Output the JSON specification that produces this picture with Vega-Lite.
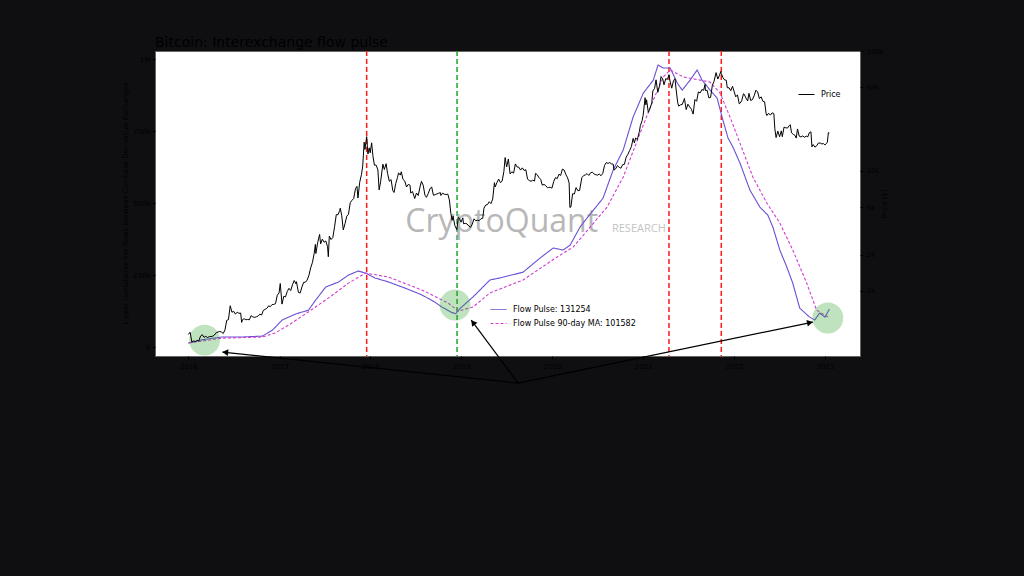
{
  "$schema": "https://vega.github.io/schema/vega-lite/v6.json",
  "autosize": {"type": "none"},
  "width": 705,
  "height": 305,
  "padding": {"left": 155, "top": 51, "right": 164, "bottom": 220},
  "background": "#0f0f12",
  "title": {"text": "Bitcoin: Interexchange flow pulse", "anchor": "start", "frame": "group", "fontSize": 14, "font": "DejaVu Sans", "fontWeight": "normal", "color": "#000000", "offset": -3},
  "config": {
    "view": {"stroke": "#666666", "fill": "#ffffff"},
    "axis": {"labelFont": "DejaVu Sans", "labelFontSize": 7, "labelColor": "#000000", "titleFont": "DejaVu Sans", "titleFontSize": 7, "titleFontWeight": "normal", "titleColor": "#000000", "tickColor": "#000000", "tickSize": 3, "domain": false, "grid": false, "labelPadding": 2},
    "legend": {"labelFont": "DejaVu Sans", "labelFontSize": 8, "labelColor": "#000000", "symbolType": "stroke", "symbolSize": 256, "symbolStrokeWidth": 1, "rowPadding": 1, "labelOffset": 6}
  },
  "datasets": {
    "flow": [
      {"date": "2016-01-01", "v": 14000, "s": "Flow Pulse: 131254"},
      {"date": "2016-03-01", "v": 26000, "s": "Flow Pulse: 131254"},
      {"date": "2016-05-16", "v": 35000, "s": "Flow Pulse: 131254"},
      {"date": "2016-08-05", "v": 35000, "s": "Flow Pulse: 131254"},
      {"date": "2016-10-24", "v": 38000, "s": "Flow Pulse: 131254"},
      {"date": "2016-12-04", "v": 59000, "s": "Flow Pulse: 131254"},
      {"date": "2017-01-12", "v": 94000, "s": "Flow Pulse: 131254"},
      {"date": "2017-03-07", "v": 115000, "s": "Flow Pulse: 131254"},
      {"date": "2017-04-27", "v": 128000, "s": "Flow Pulse: 131254"},
      {"date": "2017-05-26", "v": 163000, "s": "Flow Pulse: 131254"},
      {"date": "2017-07-05", "v": 208000, "s": "Flow Pulse: 131254"},
      {"date": "2017-08-26", "v": 226000, "s": "Flow Pulse: 131254"},
      {"date": "2017-10-05", "v": 250000, "s": "Flow Pulse: 131254"},
      {"date": "2017-11-13", "v": 264000, "s": "Flow Pulse: 131254"},
      {"date": "2017-12-13", "v": 257000, "s": "Flow Pulse: 131254"},
      {"date": "2018-01-19", "v": 240000, "s": "Flow Pulse: 131254"},
      {"date": "2018-03-15", "v": 226000, "s": "Flow Pulse: 131254"},
      {"date": "2018-05-19", "v": 205000, "s": "Flow Pulse: 131254"},
      {"date": "2018-07-27", "v": 181000, "s": "Flow Pulse: 131254"},
      {"date": "2018-09-17", "v": 156000, "s": "Flow Pulse: 131254"},
      {"date": "2018-10-15", "v": 139000, "s": "Flow Pulse: 131254"},
      {"date": "2018-11-24", "v": 120000, "s": "Flow Pulse: 131254"},
      {"date": "2018-12-10", "v": 116000, "s": "Flow Pulse: 131254"},
      {"date": "2018-12-28", "v": 135000, "s": "Flow Pulse: 131254"},
      {"date": "2019-02-17", "v": 174000, "s": "Flow Pulse: 131254"},
      {"date": "2019-04-26", "v": 233000, "s": "Flow Pulse: 131254"},
      {"date": "2019-06-05", "v": 240000, "s": "Flow Pulse: 131254"},
      {"date": "2019-09-06", "v": 260000, "s": "Flow Pulse: 131254"},
      {"date": "2019-11-13", "v": 309000, "s": "Flow Pulse: 131254"},
      {"date": "2020-01-05", "v": 344000, "s": "Flow Pulse: 131254"},
      {"date": "2020-02-14", "v": 337000, "s": "Flow Pulse: 131254"},
      {"date": "2020-03-13", "v": 354000, "s": "Flow Pulse: 131254"},
      {"date": "2020-04-22", "v": 417000, "s": "Flow Pulse: 131254"},
      {"date": "2020-05-20", "v": 448000, "s": "Flow Pulse: 131254"},
      {"date": "2020-07-23", "v": 517000, "s": "Flow Pulse: 131254"},
      {"date": "2020-09-02", "v": 615000, "s": "Flow Pulse: 131254"},
      {"date": "2020-10-12", "v": 684000, "s": "Flow Pulse: 131254"},
      {"date": "2020-11-21", "v": 799000, "s": "Flow Pulse: 131254"},
      {"date": "2021-01-01", "v": 882000, "s": "Flow Pulse: 131254"},
      {"date": "2021-02-10", "v": 927000, "s": "Flow Pulse: 131254"},
      {"date": "2021-03-01", "v": 979000, "s": "Flow Pulse: 131254"},
      {"date": "2021-03-22", "v": 969000, "s": "Flow Pulse: 131254"},
      {"date": "2021-04-19", "v": 969000, "s": "Flow Pulse: 131254"},
      {"date": "2021-05-17", "v": 917000, "s": "Flow Pulse: 131254"},
      {"date": "2021-06-06", "v": 892000, "s": "Flow Pulse: 131254"},
      {"date": "2021-07-08", "v": 927000, "s": "Flow Pulse: 131254"},
      {"date": "2021-08-05", "v": 962000, "s": "Flow Pulse: 131254"},
      {"date": "2021-08-25", "v": 927000, "s": "Flow Pulse: 131254"},
      {"date": "2021-09-26", "v": 892000, "s": "Flow Pulse: 131254"},
      {"date": "2021-10-24", "v": 865000, "s": "Flow Pulse: 131254"},
      {"date": "2021-11-13", "v": 799000, "s": "Flow Pulse: 131254"},
      {"date": "2021-12-07", "v": 726000, "s": "Flow Pulse: 131254"},
      {"date": "2021-12-27", "v": 694000, "s": "Flow Pulse: 131254"},
      {"date": "2022-01-24", "v": 639000, "s": "Flow Pulse: 131254"},
      {"date": "2022-03-05", "v": 545000, "s": "Flow Pulse: 131254"},
      {"date": "2022-04-14", "v": 486000, "s": "Flow Pulse: 131254"},
      {"date": "2022-05-16", "v": 458000, "s": "Flow Pulse: 131254"},
      {"date": "2022-06-05", "v": 417000, "s": "Flow Pulse: 131254"},
      {"date": "2022-07-03", "v": 337000, "s": "Flow Pulse: 131254"},
      {"date": "2022-07-31", "v": 278000, "s": "Flow Pulse: 131254"},
      {"date": "2022-08-24", "v": 222000, "s": "Flow Pulse: 131254"},
      {"date": "2022-09-21", "v": 135000, "s": "Flow Pulse: 131254"},
      {"date": "2022-10-31", "v": 104000, "s": "Flow Pulse: 131254"},
      {"date": "2022-11-20", "v": 94000, "s": "Flow Pulse: 131254"},
      {"date": "2022-12-10", "v": 118000, "s": "Flow Pulse: 131254"},
      {"date": "2022-12-31", "v": 104000, "s": "Flow Pulse: 131254"},
      {"date": "2023-01-18", "v": 131254, "s": "Flow Pulse: 131254"},
      {"date": "2016-01-01", "v": 14000, "s": "Flow Pulse 90-day MA: 101582"},
      {"date": "2016-05-16", "v": 31000, "s": "Flow Pulse 90-day MA: 101582"},
      {"date": "2016-10-24", "v": 35000, "s": "Flow Pulse 90-day MA: 101582"},
      {"date": "2016-12-15", "v": 49000, "s": "Flow Pulse 90-day MA: 101582"},
      {"date": "2017-02-06", "v": 76000, "s": "Flow Pulse 90-day MA: 101582"},
      {"date": "2017-04-27", "v": 122000, "s": "Flow Pulse 90-day MA: 101582"},
      {"date": "2017-07-16", "v": 170000, "s": "Flow Pulse 90-day MA: 101582"},
      {"date": "2017-10-05", "v": 222000, "s": "Flow Pulse 90-day MA: 101582"},
      {"date": "2017-12-13", "v": 257000, "s": "Flow Pulse 90-day MA: 101582"},
      {"date": "2018-03-15", "v": 243000, "s": "Flow Pulse 90-day MA: 101582"},
      {"date": "2018-07-27", "v": 198000, "s": "Flow Pulse 90-day MA: 101582"},
      {"date": "2018-11-09", "v": 153000, "s": "Flow Pulse 90-day MA: 101582"},
      {"date": "2018-12-20", "v": 125000, "s": "Flow Pulse 90-day MA: 101582"},
      {"date": "2019-02-17", "v": 139000, "s": "Flow Pulse 90-day MA: 101582"},
      {"date": "2019-04-26", "v": 188000, "s": "Flow Pulse 90-day MA: 101582"},
      {"date": "2019-09-06", "v": 233000, "s": "Flow Pulse 90-day MA: 101582"},
      {"date": "2020-01-21", "v": 313000, "s": "Flow Pulse 90-day MA: 101582"},
      {"date": "2020-03-25", "v": 347000, "s": "Flow Pulse 90-day MA: 101582"},
      {"date": "2020-06-02", "v": 417000, "s": "Flow Pulse 90-day MA: 101582"},
      {"date": "2020-08-08", "v": 486000, "s": "Flow Pulse 90-day MA: 101582"},
      {"date": "2020-10-12", "v": 590000, "s": "Flow Pulse 90-day MA: 101582"},
      {"date": "2020-12-19", "v": 743000, "s": "Flow Pulse 90-day MA: 101582"},
      {"date": "2021-02-10", "v": 858000, "s": "Flow Pulse 90-day MA: 101582"},
      {"date": "2021-03-22", "v": 938000, "s": "Flow Pulse 90-day MA: 101582"},
      {"date": "2021-04-19", "v": 962000, "s": "Flow Pulse 90-day MA: 101582"},
      {"date": "2021-06-10", "v": 938000, "s": "Flow Pulse 90-day MA: 101582"},
      {"date": "2021-08-17", "v": 927000, "s": "Flow Pulse 90-day MA: 101582"},
      {"date": "2021-09-26", "v": 920000, "s": "Flow Pulse 90-day MA: 101582"},
      {"date": "2021-11-05", "v": 882000, "s": "Flow Pulse 90-day MA: 101582"},
      {"date": "2021-12-15", "v": 799000, "s": "Flow Pulse 90-day MA: 101582"},
      {"date": "2022-01-24", "v": 708000, "s": "Flow Pulse 90-day MA: 101582"},
      {"date": "2022-03-17", "v": 590000, "s": "Flow Pulse 90-day MA: 101582"},
      {"date": "2022-05-12", "v": 500000, "s": "Flow Pulse 90-day MA: 101582"},
      {"date": "2022-07-03", "v": 431000, "s": "Flow Pulse 90-day MA: 101582"},
      {"date": "2022-08-24", "v": 337000, "s": "Flow Pulse 90-day MA: 101582"},
      {"date": "2022-10-19", "v": 222000, "s": "Flow Pulse 90-day MA: 101582"},
      {"date": "2022-11-28", "v": 128000, "s": "Flow Pulse 90-day MA: 101582"},
      {"date": "2023-01-18", "v": 101582, "s": "Flow Pulse 90-day MA: 101582"}
    ],
    "price": [
      {"date":"2016-01-01","p":434},{"date":"2016-01-08","p":453},{"date":"2016-01-15","p":375},{"date":"2016-01-22","p":383},{"date":"2016-01-29","p":379},{"date":"2016-02-05","p":386},{"date":"2016-02-12","p":384},{"date":"2016-02-19","p":421},{"date":"2016-02-26","p":432},{"date":"2016-03-04","p":410},{"date":"2016-03-11","p":419},{"date":"2016-03-18","p":409},{"date":"2016-03-25","p":416},{"date":"2016-04-01","p":417},{"date":"2016-04-08","p":420},{"date":"2016-04-15","p":430},{"date":"2016-04-22","p":449},{"date":"2016-04-29","p":455},{"date":"2016-05-06","p":459},{"date":"2016-05-13","p":455},{"date":"2016-05-20","p":442},{"date":"2016-05-27","p":473},{"date":"2016-06-03","p":569},{"date":"2016-06-10","p":577},{"date":"2016-06-17","p":753},{"date":"2016-06-24","p":665},{"date":"2016-07-01","p":676},{"date":"2016-07-08","p":640},{"date":"2016-07-15","p":666},{"date":"2016-07-22","p":651},{"date":"2016-07-29","p":655},{"date":"2016-08-02","p":547},{"date":"2016-08-05","p":575},{"date":"2016-08-12","p":587},{"date":"2016-08-19","p":575},{"date":"2016-08-26","p":579},{"date":"2016-09-02","p":575},{"date":"2016-09-09","p":623},{"date":"2016-09-16","p":607},{"date":"2016-09-23","p":602},{"date":"2016-09-30","p":609},{"date":"2016-10-07","p":617},{"date":"2016-10-14","p":641},{"date":"2016-10-21","p":630},{"date":"2016-10-28","p":688},{"date":"2016-11-04","p":703},{"date":"2016-11-11","p":716},{"date":"2016-11-18","p":751},{"date":"2016-11-25","p":740},{"date":"2016-12-02","p":771},{"date":"2016-12-09","p":772},{"date":"2016-12-16","p":784},{"date":"2016-12-23","p":921},{"date":"2016-12-30","p":962},
      {"date":"2017-01-04","p":1154},{"date":"2017-01-11","p":777},{"date":"2017-01-18","p":902},{"date":"2017-01-25","p":892},{"date":"2017-02-01","p":989},{"date":"2017-02-08","p":1052},{"date":"2017-02-15","p":1008},{"date":"2017-02-22","p":1126},{"date":"2017-03-01","p":1222},{"date":"2017-03-08","p":1149},{"date":"2017-03-10","p":1195},{"date":"2017-03-18","p":972},{"date":"2017-03-25","p":962},{"date":"2017-04-01","p":1080},{"date":"2017-04-08","p":1181},{"date":"2017-04-15","p":1183},{"date":"2017-04-22","p":1232},{"date":"2017-04-29","p":1347},{"date":"2017-05-06","p":1555},{"date":"2017-05-13","p":1720},{"date":"2017-05-20","p":2041},{"date":"2017-05-25","p":2445},{"date":"2017-05-27","p":2052},{"date":"2017-06-03","p":2519},{"date":"2017-06-11","p":2958},{"date":"2017-06-15","p":2465},{"date":"2017-06-22","p":2705},{"date":"2017-06-29","p":2547},{"date":"2017-07-06","p":2610},{"date":"2017-07-13","p":2334},{"date":"2017-07-16","p":1929},{"date":"2017-07-20","p":2864},{"date":"2017-07-27","p":2682},{"date":"2017-08-03","p":2786},{"date":"2017-08-10","p":3421},{"date":"2017-08-17","p":4331},{"date":"2017-08-24","p":4316},{"date":"2017-08-31","p":4703},{"date":"2017-09-02","p":4892},{"date":"2017-09-08","p":4228},{"date":"2017-09-14","p":3226},{"date":"2017-09-21","p":3631},{"date":"2017-09-28","p":4200},{"date":"2017-10-05","p":4357},{"date":"2017-10-12","p":5440},{"date":"2017-10-19","p":5695},{"date":"2017-10-26","p":5900},{"date":"2017-11-02","p":7100},{"date":"2017-11-08","p":7446},{"date":"2017-11-12","p":5950},{"date":"2017-11-19","p":8050},{"date":"2017-11-26","p":9330},{"date":"2017-12-01","p":10975},{"date":"2017-12-07","p":17390},{"date":"2017-12-10","p":15100},{"date":"2017-12-17","p":19345},{"date":"2017-12-22","p":13830},{"date":"2017-12-27","p":15590},{"date":"2017-12-31","p":14156},
      {"date":"2018-01-06","p":17174},{"date":"2018-01-11","p":13400},{"date":"2018-01-17","p":11180},{"date":"2018-01-24","p":11200},{"date":"2018-01-31","p":10220},{"date":"2018-02-05","p":6955},{"date":"2018-02-11","p":8130},{"date":"2018-02-20","p":11400},{"date":"2018-02-26","p":10300},{"date":"2018-03-05","p":11500},{"date":"2018-03-11","p":9530},{"date":"2018-03-18","p":8200},{"date":"2018-03-25","p":8470},{"date":"2018-04-01","p":6845},{"date":"2018-04-06","p":6620},{"date":"2018-04-13","p":7900},{"date":"2018-04-20","p":8860},{"date":"2018-04-24","p":9650},{"date":"2018-05-01","p":9240},{"date":"2018-05-05","p":9850},{"date":"2018-05-12","p":8500},{"date":"2018-05-19","p":8250},{"date":"2018-05-26","p":7350},{"date":"2018-06-02","p":7720},{"date":"2018-06-09","p":7620},{"date":"2018-06-12","p":6550},{"date":"2018-06-19","p":6740},{"date":"2018-06-28","p":5900},{"date":"2018-07-05","p":6550},{"date":"2018-07-12","p":6250},{"date":"2018-07-19","p":7320},{"date":"2018-07-25","p":8200},{"date":"2018-08-01","p":7600},{"date":"2018-08-08","p":6280},{"date":"2018-08-14","p":6030},{"date":"2018-08-21","p":6480},{"date":"2018-08-28","p":7090},{"date":"2018-09-04","p":7370},{"date":"2018-09-11","p":6280},{"date":"2018-09-18","p":6340},{"date":"2018-09-25","p":6440},{"date":"2018-10-02","p":6520},{"date":"2018-10-09","p":6600},{"date":"2018-10-11","p":6250},{"date":"2018-10-18","p":6540},{"date":"2018-10-25","p":6400},{"date":"2018-11-01","p":6360},{"date":"2018-11-08","p":6410},{"date":"2018-11-14","p":5740},{"date":"2018-11-20","p":4450},{"date":"2018-11-25","p":3880},{"date":"2018-11-29","p":4200},{"date":"2018-12-06","p":3510},{"date":"2018-12-14","p":3240},{"date":"2018-12-20","p":4110},{"date":"2018-12-24","p":4040},{"date":"2018-12-31","p":3740},
      {"date":"2019-01-07","p":4070},{"date":"2019-01-10","p":3630},{"date":"2019-01-17","p":3660},{"date":"2019-01-24","p":3620},{"date":"2019-01-31","p":3480},{"date":"2019-02-07","p":3400},{"date":"2019-02-14","p":3600},{"date":"2019-02-21","p":3990},{"date":"2019-02-28","p":3850},{"date":"2019-03-07","p":3880},{"date":"2019-03-14","p":3860},{"date":"2019-03-21","p":4000},{"date":"2019-03-28","p":4030},{"date":"2019-04-02","p":4900},{"date":"2019-04-09","p":5200},{"date":"2019-04-16","p":5240},{"date":"2019-04-23","p":5540},{"date":"2019-04-30","p":5350},{"date":"2019-05-07","p":5830},{"date":"2019-05-14","p":7990},{"date":"2019-05-17","p":7360},{"date":"2019-05-24","p":8000},{"date":"2019-05-31","p":8560},{"date":"2019-06-07","p":8000},{"date":"2019-06-14","p":8240},{"date":"2019-06-21","p":9900},{"date":"2019-06-26","p":12930},{"date":"2019-07-02","p":10800},{"date":"2019-07-09","p":12570},{"date":"2019-07-16","p":9430},{"date":"2019-07-23","p":9850},{"date":"2019-07-30","p":9590},{"date":"2019-08-06","p":11460},{"date":"2019-08-13","p":10800},{"date":"2019-08-20","p":10750},{"date":"2019-08-27","p":10170},{"date":"2019-09-03","p":10620},{"date":"2019-09-10","p":10100},{"date":"2019-09-17","p":10260},{"date":"2019-09-24","p":8550},{"date":"2019-10-01","p":8330},{"date":"2019-10-08","p":8210},{"date":"2019-10-15","p":8370},{"date":"2019-10-22","p":8240},{"date":"2019-10-26","p":9550},{"date":"2019-11-02","p":9300},{"date":"2019-11-09","p":8800},{"date":"2019-11-16","p":8500},{"date":"2019-11-22","p":7620},{"date":"2019-11-29","p":7730},{"date":"2019-12-06","p":7550},{"date":"2019-12-13","p":7250},{"date":"2019-12-18","p":7280},{"date":"2019-12-24","p":7320},{"date":"2019-12-31","p":7190},
      {"date":"2020-01-07","p":8160},{"date":"2020-01-14","p":8810},{"date":"2020-01-21","p":8630},{"date":"2020-01-28","p":9390},{"date":"2020-02-04","p":9180},{"date":"2020-02-11","p":10360},{"date":"2020-02-18","p":10180},{"date":"2020-02-25","p":9320},{"date":"2020-03-03","p":8760},{"date":"2020-03-09","p":7950},{"date":"2020-03-12","p":4970},{"date":"2020-03-16","p":5010},{"date":"2020-03-23","p":6460},{"date":"2020-03-30","p":6430},{"date":"2020-04-06","p":7270},{"date":"2020-04-13","p":6850},{"date":"2020-04-20","p":6880},{"date":"2020-04-29","p":8800},{"date":"2020-05-06","p":9150},{"date":"2020-05-13","p":9270},{"date":"2020-05-20","p":9500},{"date":"2020-05-27","p":9180},{"date":"2020-06-03","p":9660},{"date":"2020-06-10","p":9770},{"date":"2020-06-17","p":9450},{"date":"2020-06-24","p":9310},{"date":"2020-07-01","p":9230},{"date":"2020-07-08","p":9430},{"date":"2020-07-15","p":9130},{"date":"2020-07-22","p":9540},{"date":"2020-07-29","p":11100},{"date":"2020-08-05","p":11750},{"date":"2020-08-12","p":11560},{"date":"2020-08-19","p":11750},{"date":"2020-08-26","p":11470},{"date":"2020-09-02","p":11400},{"date":"2020-09-05","p":10170},{"date":"2020-09-12","p":10440},{"date":"2020-09-19","p":11080},{"date":"2020-09-26","p":10720},{"date":"2020-10-03","p":10550},{"date":"2020-10-10","p":11300},{"date":"2020-10-17","p":11360},{"date":"2020-10-24","p":13030},{"date":"2020-10-31","p":13780},{"date":"2020-11-07","p":14820},{"date":"2020-11-14","p":15960},{"date":"2020-11-21","p":18680},{"date":"2020-11-26","p":17150},{"date":"2020-12-01","p":18800},{"date":"2020-12-08","p":18320},{"date":"2020-12-16","p":21300},{"date":"2020-12-20","p":23870},{"date":"2020-12-27","p":26280},{"date":"2020-12-31","p":29000},
      {"date":"2021-01-03","p":32780},{"date":"2021-01-08","p":40800},{"date":"2021-01-11","p":35600},{"date":"2021-01-14","p":39200},{"date":"2021-01-21","p":30800},{"date":"2021-01-28","p":33400},{"date":"2021-02-04","p":36900},{"date":"2021-02-08","p":46400},{"date":"2021-02-15","p":48700},{"date":"2021-02-21","p":57500},{"date":"2021-02-28","p":45200},{"date":"2021-03-07","p":51200},{"date":"2021-03-13","p":61200},{"date":"2021-03-20","p":58300},{"date":"2021-03-25","p":52300},{"date":"2021-04-01","p":58800},{"date":"2021-04-08","p":58000},{"date":"2021-04-14","p":63500},{"date":"2021-04-18","p":56200},{"date":"2021-04-25","p":49000},{"date":"2021-05-02","p":56500},{"date":"2021-05-08","p":58800},{"date":"2021-05-12","p":49200},{"date":"2021-05-19","p":37000},{"date":"2021-05-23","p":34700},{"date":"2021-05-30","p":35600},{"date":"2021-06-06","p":35800},{"date":"2021-06-13","p":39000},{"date":"2021-06-15","p":40200},{"date":"2021-06-22","p":32500},{"date":"2021-06-29","p":36000},{"date":"2021-07-06","p":34200},{"date":"2021-07-13","p":32700},{"date":"2021-07-20","p":29800},{"date":"2021-07-27","p":39400},{"date":"2021-08-03","p":38100},{"date":"2021-08-10","p":45600},{"date":"2021-08-17","p":44700},{"date":"2021-08-24","p":47700},{"date":"2021-08-31","p":47100},{"date":"2021-09-06","p":52700},{"date":"2021-09-07","p":46900},{"date":"2021-09-14","p":47100},{"date":"2021-09-21","p":40700},{"date":"2021-09-28","p":41000},{"date":"2021-10-05","p":51500},{"date":"2021-10-12","p":56000},{"date":"2021-10-20","p":66000},{"date":"2021-10-27","p":58400},{"date":"2021-11-03","p":62900},{"date":"2021-11-08","p":67500},{"date":"2021-11-10","p":64900},{"date":"2021-11-16","p":60300},{"date":"2021-11-23","p":57500},{"date":"2021-11-30","p":57000},{"date":"2021-12-04","p":49400},{"date":"2021-12-11","p":49400},{"date":"2021-12-18","p":46700},{"date":"2021-12-25","p":50800},{"date":"2021-12-31","p":46300},
      {"date":"2022-01-07","p":41500},{"date":"2022-01-14","p":43100},{"date":"2022-01-21","p":36300},{"date":"2022-01-24","p":36600},{"date":"2022-01-31","p":38500},{"date":"2022-02-07","p":44000},{"date":"2022-02-10","p":43600},{"date":"2022-02-17","p":40600},{"date":"2022-02-24","p":38300},{"date":"2022-03-01","p":44400},{"date":"2022-03-08","p":38700},{"date":"2022-03-15","p":39300},{"date":"2022-03-22","p":42400},{"date":"2022-03-29","p":47100},{"date":"2022-04-05","p":45500},{"date":"2022-04-12","p":40100},{"date":"2022-04-19","p":41500},{"date":"2022-04-26","p":38100},{"date":"2022-05-03","p":37700},{"date":"2022-05-09","p":30100},{"date":"2022-05-12","p":29000},{"date":"2022-05-19","p":30300},{"date":"2022-05-26","p":29200},{"date":"2022-06-02","p":30500},{"date":"2022-06-09","p":30100},{"date":"2022-06-13","p":22500},{"date":"2022-06-18","p":19000},{"date":"2022-06-25","p":21500},{"date":"2022-07-02","p":19300},{"date":"2022-07-09","p":21600},{"date":"2022-07-13","p":19300},{"date":"2022-07-20","p":23200},{"date":"2022-07-27","p":22900},{"date":"2022-08-03","p":22800},{"date":"2022-08-10","p":23900},{"date":"2022-08-14","p":24300},{"date":"2022-08-19","p":20800},{"date":"2022-08-26","p":20200},{"date":"2022-09-02","p":19800},{"date":"2022-09-07","p":18800},{"date":"2022-09-12","p":22400},{"date":"2022-09-19","p":19500},{"date":"2022-09-26","p":19200},{"date":"2022-10-03","p":19600},{"date":"2022-10-10","p":19100},{"date":"2022-10-17","p":19500},{"date":"2022-10-24","p":19300},{"date":"2022-10-29","p":20800},{"date":"2022-11-05","p":21200},{"date":"2022-11-09","p":15900},{"date":"2022-11-14","p":16600},{"date":"2022-11-21","p":15800},{"date":"2022-11-28","p":16200},{"date":"2022-12-05","p":17100},{"date":"2022-12-12","p":17100},{"date":"2022-12-19","p":16800},{"date":"2022-12-26","p":16900},{"date":"2022-12-31","p":16500},
      {"date":"2023-01-06","p":16900},{"date":"2023-01-10","p":17400},{"date":"2023-01-14","p":20900},{"date":"2023-01-18","p":20700}
    ]
  },
  "layer": [
    {
      "layer": [
        {
          "data": {"values": [{"date": "2017-12-17"}, {"date": "2021-04-14"}, {"date": "2021-11-10"}]},
          "mark": {"type": "rule", "color": "#ff1a1a", "strokeDash": [5, 3], "strokeWidth": 1.5},
          "encoding": {"x": {"field": "date", "type": "temporal"}}
        },
        {
          "data": {"values": [{"date": "2018-12-15"}]},
          "mark": {"type": "rule", "color": "#1fa51f", "strokeDash": [5, 3], "strokeWidth": 1.5},
          "encoding": {"x": {"field": "date", "type": "temporal"}}
        },
        {
          "data": {"values": [{"t": "CryptoQuant", "date": "2018-05-21", "v": 399000}]},
          "mark": {"type": "text", "font": "Open Sans", "fontSize": 32, "color": "#ababab", "opacity": 0.85, "align": "left", "baseline": "alphabetic"},
          "encoding": {"x": {"field": "date", "type": "temporal"}, "y": {"field": "v", "type": "quantitative"}, "text": {"field": "t"}}
        },
        {
          "data": {"values": [{"t": "RESEARCH", "date": "2020-08-28", "v": 399000}]},
          "mark": {"type": "text", "font": "Open Sans", "fontSize": 11, "color": "#c4c4c4", "align": "left", "baseline": "alphabetic"},
          "encoding": {"x": {"field": "date", "type": "temporal"}, "y": {"field": "v", "type": "quantitative"}, "text": {"field": "t"}}
        },
        {
          "data": {"name": "flow"},
          "mark": {"type": "line", "strokeWidth": 1.1},
          "encoding": {
            "x": {"field": "date", "type": "temporal", "title": null,
                  "scale": {"type": "utc", "domain": [{"year": 2015, "month": 8, "date": 20, "utc": true}, {"year": 2023, "month": 5, "date": 21, "utc": true}]},
                  "axis": {"format": "%Y", "labelPadding": 3, "values": [{"year": 2016, "month": 1, "date": 1, "utc": true}, {"year": 2017, "month": 1, "date": 1, "utc": true}, {"year": 2018, "month": 1, "date": 1, "utc": true}, {"year": 2019, "month": 1, "date": 1, "utc": true}, {"year": 2020, "month": 1, "date": 1, "utc": true}, {"year": 2021, "month": 1, "date": 1, "utc": true}, {"year": 2022, "month": 1, "date": 1, "utc": true}, {"year": 2023, "month": 1, "date": 1, "utc": true}]}},
            "y": {"field": "v", "type": "quantitative",
                  "title": "1-year cumulative net flows between Coinbase Derivative Exchanges",
                  "scale": {"domain": [-31000, 1028000], "nice": false, "zero": false},
                  "axis": {"orient": "left", "values": [0, 250000, 500000, 750000, 1000000], "labelExpr": "datum.value == 0 ? '0' : datum.value >= 1000000 ? '1M' : (datum.value / 1000) + 'k'", "titlePadding": 4}},
            "color": {"field": "s", "type": "nominal", "title": null,
                      "scale": {"domain": ["Flow Pulse: 131254", "Flow Pulse 90-day MA: 101582"], "range": ["#6a4fd6", "#d23cd2"]},
                      "legend": {"orient": "none", "legendX": 335, "legendY": 250}},
            "strokeDash": {"field": "s", "type": "nominal", "title": null,
                           "scale": {"domain": ["Flow Pulse: 131254", "Flow Pulse 90-day MA: 101582"], "range": [[1, 0], [3, 2]]},
                           "legend": {"orient": "none", "legendX": 335, "legendY": 250}}
          }
        },
        {
          "data": {"values": [{"date": "2016-03-06", "v": 24000}, {"date": "2018-12-07", "v": 146000}, {"date": "2023-01-12", "v": 101000}]},
          "mark": {"type": "point", "filled": true, "shape": "circle", "size": 950, "color": "#2ca02c", "opacity": 0.3},
          "encoding": {"x": {"field": "date", "type": "temporal"}, "y": {"field": "v", "type": "quantitative"}}
        },
        {
          "data": {"values": [
            {"x1": "2019-08-17", "y1": -125000, "x2": "2016-05-17", "y2": -17400},
            {"x1": "2019-08-17", "y1": -125000, "x2": "2019-02-10", "y2": 93750},
            {"x1": "2019-08-17", "y1": -125000, "x2": "2022-11-13", "y2": 86800}
          ]},
          "mark": {"type": "rule", "color": "#000000", "strokeWidth": 1.2, "clip": false},
          "encoding": {"x": {"field": "x1", "type": "temporal"}, "y": {"field": "y1", "type": "quantitative"}, "x2": {"field": "x2"}, "y2": {"field": "y2"}}
        },
        {
          "data": {"values": [{"date": "2016-05-28", "v": -18400}]},
          "mark": {"type": "point", "filled": true, "shape": "triangle-up", "size": 45, "color": "#000000", "opacity": 1, "angle": 276, "clip": false},
          "encoding": {"x": {"field": "date", "type": "temporal"}, "y": {"field": "v", "type": "quantitative"}}
        },
        {
          "data": {"values": [{"date": "2019-02-17", "v": 85400}]},
          "mark": {"type": "point", "filled": true, "shape": "triangle-up", "size": 45, "color": "#000000", "opacity": 1, "angle": 323, "clip": false},
          "encoding": {"x": {"field": "date", "type": "temporal"}, "y": {"field": "v", "type": "quantitative"}}
        },
        {
          "data": {"values": [{"date": "2022-11-01", "v": 84700}]},
          "mark": {"type": "point", "filled": true, "shape": "triangle-up", "size": 45, "color": "#000000", "opacity": 1, "angle": 78, "clip": false},
          "encoding": {"x": {"field": "date", "type": "temporal"}, "y": {"field": "v", "type": "quantitative"}}
        }
      ]
    },
    {
      "data": {"name": "price"},
      "mark": {"type": "line", "strokeWidth": 1, "color": "#000000"},
      "encoding": {
        "x": {"field": "date", "type": "temporal"},
        "y": {"field": "p", "type": "quantitative", "title": "Price ($)",
              "scale": {"type": "log", "domain": [287, 100000], "nice": false},
              "axis": {"orient": "right", "values": [1000, 2000, 5000, 10000, 50000, 100000], "labelExpr": "(datum.value / 1000) + 'k'", "titleAngle": 270, "titlePadding": 4, "labelPadding": 3}},
        "color": {"datum": "Price", "type": "nominal", "title": null,
                  "scale": {"domain": ["Price"], "range": ["#000000"]},
                  "legend": {"orient": "none", "legendX": 643, "legendY": 35}}
      }
    }
  ],
  "resolve": {"scale": {"y": "independent", "color": "independent", "strokeDash": "independent"}, "axis": {"y": "independent"}, "legend": {"color": "independent"}}
}
